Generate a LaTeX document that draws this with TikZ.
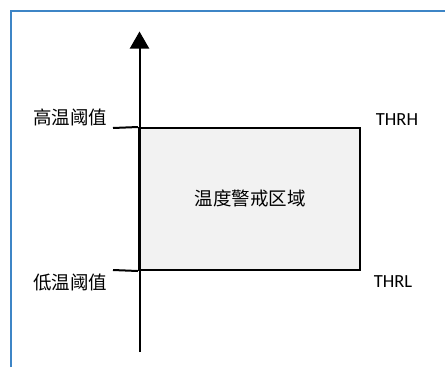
\documentclass[tikz,border=0pt]{standalone}
\usepackage{fontspec}
\setmainfont{Carlito}
\newfontfamily\cjk{Noto Sans CJK SC}
\usetikzlibrary{arrows.meta}
\tikzset{
    frame/.style={draw=frameblue,line width=2bp},
    zonebox/.style={draw,line width=2bp,fill=zonegray,minimum width=221bp,minimum height=142bp,inner sep=0pt},
    axis/.style={line width=2bp,-{Triangle[length=17bp,width=19bp]}},
    tick/.style={line width=2bp},
    lbl/.style={inner sep=0pt,font=\cjk\fontsize{18.5bp}{22bp}\selectfont},
    thr/.style={inner sep=0pt,font=\fontsize{18.5bp}{22bp}\selectfont}
}
\definecolor{frameblue}{HTML}{3D85C6}
\definecolor{zonegray}{HTML}{F2F2F2}
\begin{document}
\begin{tikzpicture}[x=1bp,y=-1bp]
    \useasboundingbox (0,0) rectangle (445,367);
    % outer frame
    \draw[frame] (10.5,367) -- (10.5,10.5) -- (445,10.5);

    % warning zone
    \node[zonebox] (zone) at (249.5,199) {};
    \node[lbl] (zonetxt) at (250,198) {温度警戒区域};

    % vertical axis
    \coordinate (axbot) at (139.5,352);
    \coordinate (axtop) at (139.5,31.5);
    \draw[axis] (axbot) -- (axtop);

    % thresholds
    \coordinate (hitick) at (113,128);
    \coordinate (lotick) at (113,270);
    \draw[tick] (hitick) -- (zone.north west);
    \draw[tick] (lotick) -- (zone.south west);
    \node[lbl] (hilbl) at (70,117) {高温阈值};
    \node[lbl] (lolbl) at (70,282) {低温阈值};
    \node[thr] (thrh) at (397,120) {THRH};
    \node[thr] (thrl) at (393,282) {THRL};
\end{tikzpicture}
\end{document}
